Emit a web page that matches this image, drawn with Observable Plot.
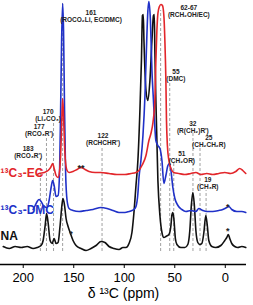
<!DOCTYPE html>
<html><head><meta charset="utf-8">
<script src="https://cdn.jsdelivr.net/npm/d3@7"></script>
<script src="https://cdn.jsdelivr.net/npm/@observablehq/plot@0.6"></script>
<style>body{margin:0;background:#fff}</style>
</head><body><div id="chart"></div>
<script>
// NA spectrum (ppm, intensity above own baseline)
const naPpm = [219.8,213.9,208.0,202.0,196.1,190.2,186.2,182.3,180.3,178.3,176.9,175.4,173.4,171.4,169.4,167.5,165.5,163.5,161.5,160.6,159.1,157.6,155.6,153.6,150.7,147.7,142.8,137.8,132.9,127.9,123.0,119.1,115.1,110.2,105.2,101.3,98.3,95.3,92.4,90.4,88.4,86.5,84.5,83.0,82.0,81.2,80.5,78.5,76.6,74.6,72.6,71.1,70.3,69.7,68.7,66.7,64.7,62.7,60.8,58.8,55.8,53.8,52.9,51.9,50.9,49.4,47.9,44.0,40.0,37.1,35.1,33.6,32.1,30.6,29.1,27.2,25.2,23.2,21.2,19.3,17.8,16.3,13.3,9.4,4.4,0.5,-1.5,-3.0,-4.4,-6.4,-9.4,-12.4,-16.3,-20.3];
const naInt = [1,-1,1,0,1,-1,0,2,7,22,34,25,7,4,9,4,5,22,44,49,42,29,21,15,7,2,-1,-3,-1,2,6,5,1,-1,-2,0,0,4,15,35,62,87,137,187,232,233,207,157,147,167,207,232,233,197,147,67,32,15,10,11,13,22,32,35,29,9,3,0,0,3,17,42,55,42,17,5,3,4,15,32,22,7,1,0,2,7,10,13,9,4,1,0,1,0];
// 13C3-DMC spectrum
const dmcPpm = [190.2,188.2,186.2,184.3,182.3,179.3,176.4,174.4,172.4,170.9,169.4,167.5,165.5,164.0,163.0,162.0,161.0,160.1,159.1,158.1,156.6,154.6,150.7,144.7,137.8,130.9,123.0,117.1,111.2,105.2,99.3,95.3,92.4,90.4,88.4,86.5,85.5,83.5,81.5,79.5,78.1,76.6,75.6,74.1,72.6,71.1,70.1,68.7,66.7,64.7,62.7,60.8,58.8,56.8,55.3,53.8,51.9,49.9,46.9,43.0,39.0,34.1,29.1,26.2,22.2,18.3,12.4,6.4,2.5,-1.5,-3.5,-6.4,-11.4,-16.3,-20.3];
const dmcInt = [1,5,9,11,9,4,3,10,23,30,25,14,15,40,100,170,207,180,100,40,10,2,0,-1,0,1,3,2,0,-2,-2,-1,0,1,4,17,32,50,75,115,160,200,209,190,140,110,90,70,65,62,50,27,35,45,47,40,23,12,5,1,-1,0,-1,2,0,-1,-1,0,1,3,4,1,-1,-1,-2];
// 13C3-EC spectrum
const ecPpm = [186.2,184.3,179.3,175.4,172.9,170.9,169.4,167.5,165.5,164.0,163.0,162.0,161.0,160.1,159.1,158.1,156.6,154.6,150.7,146.7,142.8,138.8,134.9,128.9,123.0,115.1,107.2,99.3,93.4,88.4,85.5,82.5,78.5,75.6,73.6,71.6,69.7,68.7,67.7,66.7,65.2,63.7,62.2,60.8,59.8,58.8,58.2,57.3,55.8,53.8,50.9,45.9,40.0,34.1,29.1,24.2,18.3,12.4,6.4,0.5,-5.4,-10.4,-14.3,-17.3,-20.3];
const ecInt = [-1,0,1,3,6,10,5,-2,-4,3,18,48,75,58,28,11,3,1,2,4,6,4,2,1,1,0,-1,-1,0,1,3,8,18,33,40,51,73,113,143,160,167,169,168,158,133,93,53,28,13,5,1,0,-1,0,1,-1,0,-1,0,1,0,2,5,3,0];

const seriesNames = ["¹³C₃-EC", "¹³C₃-DMC", "NA"];
const seriesColors = ["#e2262b", "#2031c8", "#111111"];
const seriesOffsets = [91, 54, 17];

// peak assignments
const peakPpm = [183, 177, 170, 161, 122, 64, 55, 51, 32, 25, 19];
const peakTop = [106, 127, 142, 261, 118, 254, 182, 101, 131, 116, 74];
const annNum = ["161", "170", "177", "183", "122", "62-67", "55", "51", "32", "25", "19"];
const annName = ["(ROCO₂Li, EC/DMC)", "(Li₂CO₃)", "(RCO₃R')", "(RCO₃R')", "(RCHCHR')", "(RCH₂OH/EC)", "(DMC)", "(CH₂OR)", "(R(CH₂)R')", "(CH₂CH₂R)", "(CH₃R)"];
const annPpm = [132.9, 175.4, 184.3, 195.1, 121.0, 36.1, 48.9, 43.0, 32.1, 16.3, 17.3];
const annLevel = [252, 153, 138, 116, 129, 257, 193, 111, 141, 127, 85];
const starText = ["**", "*", "*", "*"];
const starPpm = [142.8, -2.5, -2.5, 152.7];
const starLevel = [96, 57, 33, 30];
const ticks = [200, 150, 100, 50, 0];

const rows = [];
[[ecPpm, ecInt], [dmcPpm, dmcInt], [naPpm, naInt]].forEach(([p, v], s) => {
  p.forEach((x, i) => rows.push({series: seriesNames[s], ppm: x, v: v[i] + seriesOffsets[s]}));
});
const ann = annNum.map((t, i) => ({num: t, name: annName[i], ppm: annPpm[i], lv: annLevel[i]}));
const stars = starText.map((t, i) => ({t, ppm: starPpm[i], lv: starLevel[i]}));
const dashes = peakPpm.map((p, i) => ({ppm: p, top: peakTop[i]}));
const labelRows = seriesNames.map((n, i) => ({n, c: seriesColors[i], lv: [91, 54, 28][i]}));

const font = "Arial, 'Liberation Sans', sans-serif";
const chart = Plot.plot({
  width: 253, height: 305,
  marginLeft: 0, marginRight: 7, marginTop: 0, marginBottom: 41,
  style: {fontFamily: font, background: "#fff"},
  x: {domain: [222.5, -21], axis: null},
  y: {domain: [0, 264], axis: null},
  marks: [
    Plot.ruleX(dashes, {x: "ppm", y1: 13, y2: "top", stroke: "#a0a0a0", strokeWidth: 1, strokeDasharray: "3,2"}),
    ...[2, 1, 0].map(s => Plot.line(rows.filter(r => r.series === seriesNames[s]), {
      x: "ppm", y: "v", stroke: seriesColors[s], strokeWidth: 1.6, curve: "monotone-x"
    })),
    Plot.text(ann, {x: "ppm", y: "lv", text: "num", fontSize: 6.5, fontWeight: "bold", fill: "#222"}),
    Plot.text(ann, {x: "ppm", y: "lv", dy: 7, text: "name", fontSize: 6.5, fontWeight: "bold", fill: "#222"}),
    Plot.text(stars, {x: "ppm", y: "lv", text: "t", fontSize: 9, fontWeight: "bold", fill: "#222"}),
    Plot.text(labelRows, {x: 222.5, y: "lv", text: "n", fill: "c", fontSize: 12, fontWeight: "bold", textAnchor: "start"}),
    Plot.ruleY([0], {stroke: "#000", strokeWidth: 1.5}),
    Plot.axisX({ticks, tickSize: 4, tickPadding: 4, fontSize: 13, label: null, stroke: "#000", color: "#000"}),
    Plot.text(["δ ¹³C (ppm)"], {frameAnchor: "bottom", dy: 33, fontSize: 14, fill: "#000"})
  ]
});
document.getElementById("chart").appendChild(chart);
</script>
</body></html>
